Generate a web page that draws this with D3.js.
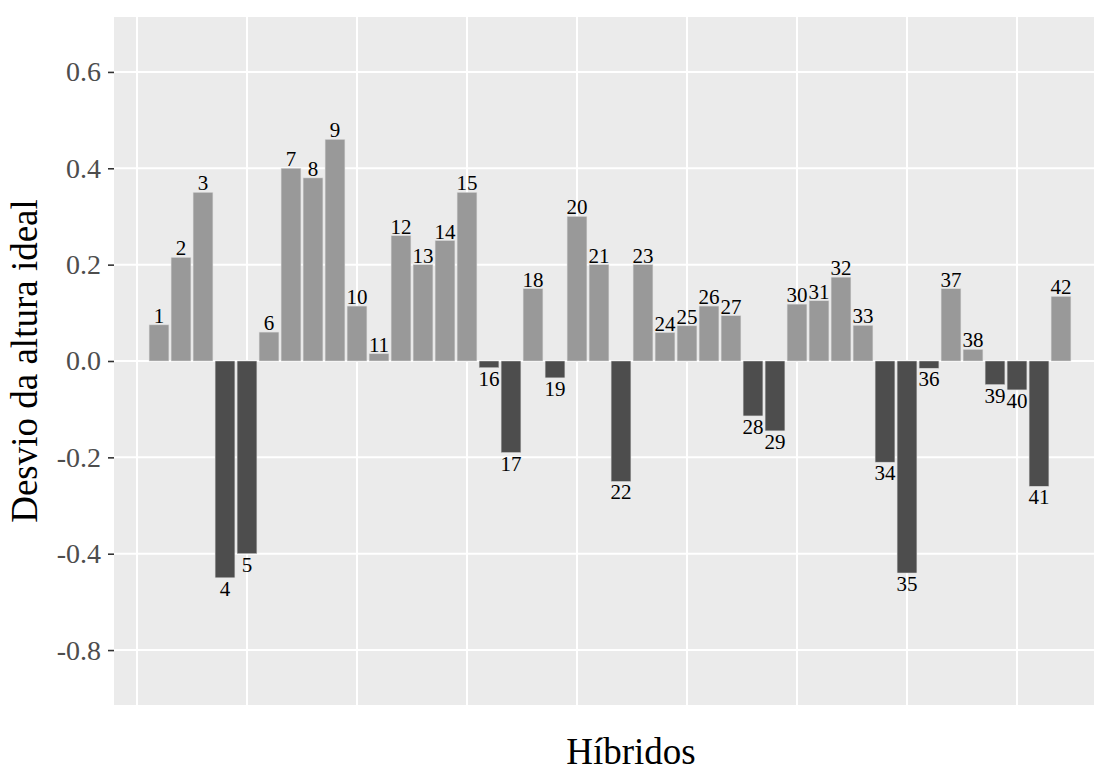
<!DOCTYPE html>
<html>
<head>
<meta charset="utf-8">
<script src="https://cdn.jsdelivr.net/npm/d3@7"></script>
<style>
  html, body { margin: 0; padding: 0; background: #ffffff; }
  svg { display: block; }
  svg text { font-family: "Liberation Serif", "Times New Roman", serif; }
</style>
</head>
<body>
<script>
// ---- data ----
const hybrids = d3.range(1, 43);
const deviations = [
  0.075, 0.215, 0.35, -0.45, -0.40, 0.06, 0.40, 0.38, 0.46, 0.114,
  0.015, 0.26, 0.20, 0.25, 0.35, -0.014, -0.19, 0.15, -0.035, 0.30,
  0.20, -0.25, 0.20, 0.059, 0.073, 0.114, 0.094, -0.114, -0.145, 0.118,
  0.125, 0.174, 0.074, -0.21, -0.44, -0.015, 0.15, 0.024, -0.049, -0.06,
  -0.26, 0.134
];
const yTickValues = [0.6, 0.4, 0.2, 0.0, -0.2, -0.4, -0.6];
const yTickLabels = ["0.6", "0.4", "0.2", "0.0", "-0.2", "-0.4", "-0.8"];
const xGridValues = [0, 5, 10, 15, 20, 25, 30, 35, 40];

const data = hybrids.map((h, i) => ({ id: h, value: deviations[i] }));

// ---- layout ----
const W = 1094, H = 774;
const panel = { left: 114, top: 17, right: 1094, bottom: 705 };
const serif = "Liberation Serif, Times New Roman, serif";

const svg = d3.select("body").append("svg")
  .attr("width", W).attr("height", H);

const x = d3.scaleLinear().domain([-1.045, 43.5]).range([panel.left, panel.right]);
const y = d3.scaleLinear().domain([-0.714, 0.714]).range([panel.bottom, panel.top]);

// panel background
svg.append("rect")
  .attr("x", panel.left).attr("y", panel.top)
  .attr("width", panel.right - panel.left)
  .attr("height", panel.bottom - panel.top)
  .attr("fill", "#EBEBEB");

// gridlines
const grid = svg.append("g");
grid.selectAll("line.h").data(yTickValues).join("line")
  .attr("x1", panel.left).attr("x2", panel.right)
  .attr("y1", d => y(d)).attr("y2", d => y(d))
  .attr("stroke", "#ffffff").attr("stroke-width", 2);
grid.selectAll("line.v").data(xGridValues).join("line")
  .attr("y1", panel.top).attr("y2", panel.bottom)
  .attr("x1", d => x(d)).attr("x2", d => x(d))
  .attr("stroke", "#ffffff").attr("stroke-width", 2);

// bars
const bw = x(0.9) - x(0);
svg.append("g").selectAll("rect").data(data).join("rect")
  .attr("x", d => x(d.id) - bw / 2)
  .attr("width", bw)
  .attr("y", d => y(Math.max(0, d.value)))
  .attr("height", d => Math.abs(y(d.value) - y(0)))
  .attr("fill", d => d.value >= 0 ? "#999999" : "#4D4D4D")
  .attr("stroke", "#d8d8d8")
  .attr("stroke-width", 0.5);

// bar labels
svg.append("g").selectAll("text").data(data).join("text")
  .attr("x", d => x(d.id))
  .attr("y", d => d.value >= 0 ? y(d.value) - 2 : y(d.value) + 18)
  .attr("text-anchor", "middle")
  .style("font-family", serif)
  .style("font-size", "21px")
  .attr("fill", "#000000")
  .text(d => d.id);

// y axis
const yAxis = d3.axisLeft(y)
  .tickValues(yTickValues)
  .tickFormat((d, i) => yTickLabels[i])
  .tickSize(6)
  .tickPadding(7);
const ya = svg.append("g")
  .attr("transform", `translate(${panel.left},0)`)
  .call(yAxis)
  .attr("font-family", null)
  .attr("font-size", null);
ya.select(".domain").remove();
ya.selectAll(".tick line").attr("stroke", "#333333").attr("stroke-width", 1.6);
ya.selectAll(".tick text")
  .style("font-family", serif)
  .style("font-size", "28px")
  .attr("fill", "#4D4D4D");

// axis titles
svg.append("text")
  .attr("transform", `translate(37,${(panel.top + panel.bottom) / 2}) rotate(-90)`)
  .attr("text-anchor", "middle")
  .style("font-family", serif)
  .style("font-size", "37px")
  .attr("fill", "#000000")
  .text("Desvio da altura ideal");

svg.append("text")
  .attr("x", 631)
  .attr("y", 764)
  .attr("text-anchor", "middle")
  .style("font-family", serif)
  .style("font-size", "37px")
  .attr("fill", "#000000")
  .text("Híbridos");
</script>
</body>
</html>
